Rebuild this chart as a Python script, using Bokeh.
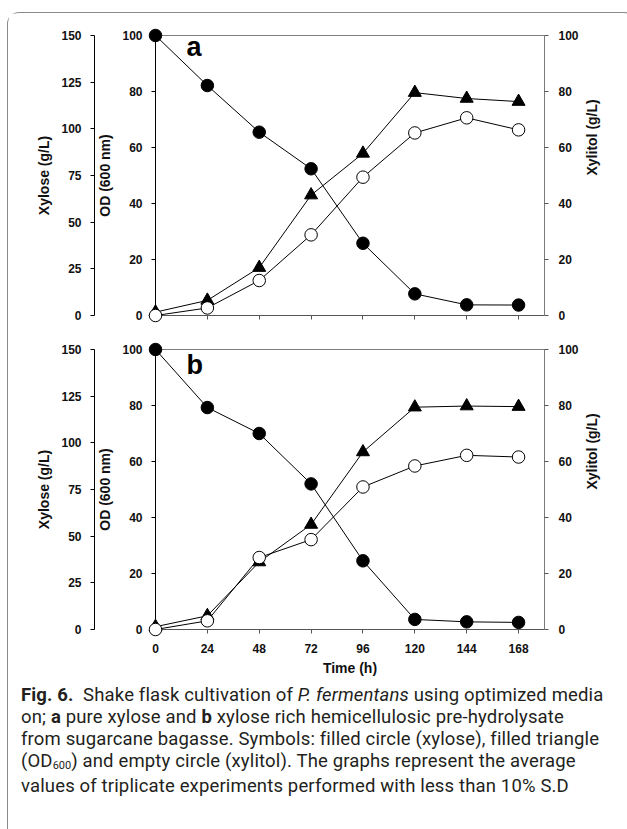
import math
from bokeh.plotting import figure
from bokeh.models import Range1d, LinearAxis, FixedTicker, Span, Label, Div
from bokeh.layouts import column
from bokeh.embed import file_html
from bokeh.resources import INLINE

# ---- data ----
time_h = [0, 24, 48, 72, 96, 120, 144, 168]
time_ticks = [0, 24, 48, 72, 96, 120, 144, 168]
od_ticks = [0, 20, 40, 60, 80, 100]
xylose_ticks = [0, 25, 50, 75, 100, 125, 150]
xylitol_ticks = [0, 20, 40, 60, 80, 100]

xylose_a = [150, 123.2, 98.2, 78.6, 38.7, 11.6, 5.7, 5.6]
od_a = [1.2, 5.4, 17.1, 43.0, 57.9, 79.6, 77.5, 76.4]
xylitol_a = [0, 2.7, 12.5, 28.8, 49.4, 65.2, 70.6, 66.3]

xylose_b = [150, 118.9, 105.0, 78.0, 36.8, 5.4, 4.1, 3.8]
od_b = [1.0, 4.9, 24.1, 37.5, 63.4, 79.4, 79.8, 79.6]
xylitol_b = [0, 3.1, 25.7, 32.1, 50.9, 58.4, 62.2, 61.6]

FONT = "Liberation Sans"


def style_axis(ax, color="black", label_standoff=2, tick_standoff=9):
    ax.axis_line_color = color
    ax.major_tick_line_color = color
    ax.minor_tick_line_color = None
    ax.major_tick_out = 4
    ax.major_tick_in = 0
    ax.major_label_text_font = FONT
    ax.major_label_text_font_style = "bold"
    ax.major_label_text_font_size = "12px"
    ax.major_label_text_color = "#111111"
    ax.major_label_standoff = tick_standoff
    ax.axis_label_text_font = FONT
    ax.axis_label_text_font_style = "bold"
    ax.axis_label_text_font_size = "14px"
    ax.axis_label_text_color = "#111111"
    ax.axis_label_standoff = label_standoff


def make_panel(xylose, od, xylitol, letter, letter_y, bottom_labels):
    p = figure(
        frame_width=389, frame_height=280,
        min_border_left=147, min_border_right=81,
        min_border_top=22, min_border_bottom=(50 if bottom_labels else 12),
        x_range=Range1d(0, 180), y_range=Range1d(0, 100),
        output_backend="svg", toolbar_location=None,
    )
    p.extra_y_ranges = {"xylose": Range1d(0, 150), "xylitol": Range1d(0, 100)}
    p.grid.visible = False
    p.outline_line_color = None
    p.background_fill_color = "white"
    p.border_fill_color = "white"

    # OD axis (inner left)
    yax = p.yaxis[0]
    yax.ticker = FixedTicker(ticks=od_ticks)
    yax.axis_label = "OD (600 nm)"
    style_axis(yax, "black", label_standoff=6, tick_standoff=9)

    # spacer between OD axis and Xylose axis
    spacer = LinearAxis(y_range_name="xylose", ticker=FixedTicker(ticks=[]),
                        axis_line_color=None, major_tick_line_color=None,
                        minor_tick_line_color=None, major_tick_out=10,
                        major_tick_in=0, minor_tick_out=0, minor_tick_in=0,
                        major_label_standoff=0)
    p.add_layout(spacer, "left")

    # Xylose axis (outer left)
    xax = LinearAxis(y_range_name="xylose", ticker=FixedTicker(ticks=xylose_ticks),
                     axis_label="Xylose (g/L)")
    style_axis(xax, "black", label_standoff=6, tick_standoff=9)
    p.add_layout(xax, "left")

    # Xylitol axis (right)
    rax = LinearAxis(y_range_name="xylitol", ticker=FixedTicker(ticks=xylitol_ticks),
                     axis_label="Xylitol (g/L)")
    style_axis(rax, "#7a7a7a", label_standoff=10, tick_standoff=10)
    rax.major_tick_line_color = "#555555"
    rax.axis_label_orientation = math.pi / 2
    p.add_layout(rax, "right")

    # time axis
    tax = p.xaxis[0]
    tax.ticker = FixedTicker(ticks=time_ticks)
    style_axis(tax, "#555555", label_standoff=4, tick_standoff=10)
    if bottom_labels:
        tax.axis_label = "Time (h)"
    else:
        tax.major_label_overrides = {t: "" for t in time_ticks}
        tax.major_label_standoff = 0

    # top border of the plot box
    p.add_layout(Span(location=100, dimension="width", line_color="black", line_width=1))

    # series lines
    p.line(time_h, od, line_color="black", line_width=1)
    p.line(time_h, xylose, y_range_name="xylose", line_color="black", line_width=1)
    p.line(time_h, xylitol, y_range_name="xylitol", line_color="black", line_width=1)

    # markers
    p.scatter(time_h, od, marker="triangle", size=13, fill_color="black",
              line_color="black", level="overlay")
    p.scatter(time_h, xylose, y_range_name="xylose", marker="circle", size=12.5,
              fill_color="black", line_color="black", level="overlay")
    p.scatter(time_h, xylitol, y_range_name="xylitol", marker="circle", size=12.5,
              fill_color="white", line_color="black", line_width=1, level="overlay")

    p.add_layout(Label(x=14.4, y=letter_y, text=letter, text_font=FONT,
                       text_font_style="bold", text_font_size="27px",
                       text_color="black", text_align="left",
                       text_baseline="alphabetic"))
    return p


fig_a = make_panel(xylose_a, od_a, xylitol_a, "a", 95.8, False)
fig_b = make_panel(xylose_b, od_b, xylitol_b, "b", 94.5, True)

caption_html = (
    '<div style="font-family: Roboto, sans-serif; font-size: 18.5px; '
    'letter-spacing: 0.15px; line-height: 22px; color: #231f20; white-space: nowrap; '
    'padding: 0 0 0 8px;">'
    '<b>Fig. 6.</b>&nbsp; Shake flask cultivation of <i>P. fermentans</i> using optimized media<br>'
    'on; <b>a</b> pure xylose and <b>b</b> xylose rich hemicellulosic pre-hydrolysate<br>'
    'from sugarcane bagasse. Symbols: filled circle (xylose), filled triangle<br>'
    '(OD<span style="font-size: 11px; letter-spacing: 0; position: relative; top: 1.5px;">600</span>) '
    'and empty circle (xylitol). The graphs represent the average<br>'
    'values of triplicate experiments performed with less than 10% S.D'
    '</div>'
)
caption = Div(text=caption_html, width=617, height=146)

layout = column(fig_a, fig_b, caption,
                styles={"border": "1px solid #8a8a8a", "border-bottom": "none",
                        "border-radius": "12px 12px 0 0",
                        "margin-top": "12px", "margin-left": "7px",
                        "background-color": "white"})

open("out.html", "w").write(file_html(layout, INLINE))
